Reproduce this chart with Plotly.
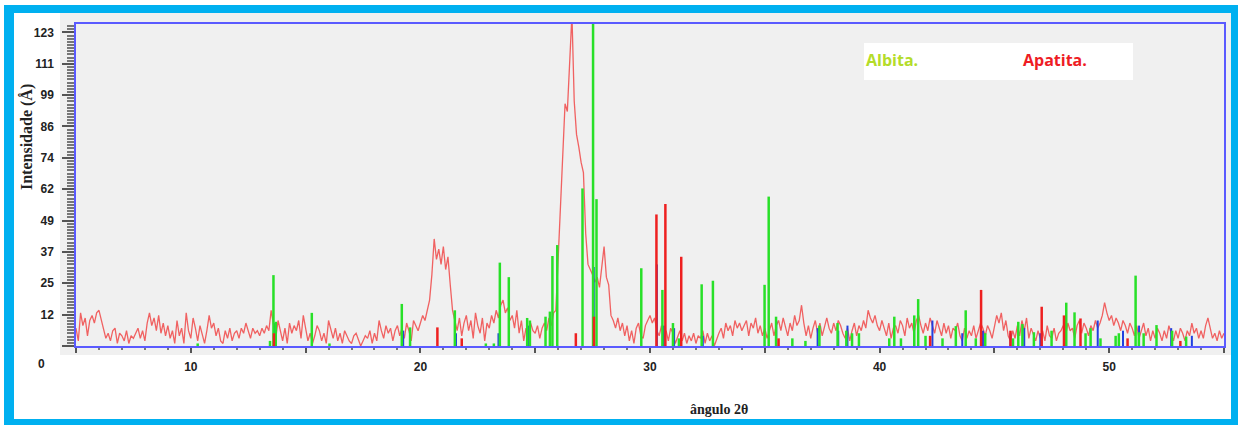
import plotly.graph_objects as go

# ---------------- data ----------------
two_theta_start = 5.0
two_theta_step = 0.1
intensity = [
    7, 2, 13, 8, 11, 4, 10, 12, 9, 13,      # 5
    14, 10, 7, 3, 5, 2, 6, 7, 1, 5,         # 6
    4, 2, 6, 1, 4, 3, 5, 7, 3, 6,           # 7
    2, 9, 13, 8, 11, 6, 12, 5, 9, 4,        # 8
    8, 3, 6, 1, 10, 4, 7, 1, 13, 6,         # 9
    3, 11, 7, 2, 8, 5, 1, 6, 12, 7,         # 10
    9, 4, 7, 2, 1, 6, 3, 7, 2, 5,           # 11
    6, 3, 7, 5, 9, 6, 3, 7, 5, 6,           # 12
    4, 7, 5, 8, 6, 14, 9, 3, 10, 6,         # 13
    2, 7, 1, 9, 5, 8, 6, 10, 3, 12,         # 14
    7, 2, 5, 1, 4, 8, 6, 2, 5, 1,           # 15
    10, 6, 3, 7, 2, 5, 1, 6, 4, 2,          # 16
    1, 4, 5, 2, 0, 2, 4, 3, 6, 1,           # 17
    5, 2, 10, 6, 3, 8, 5, 7, 2, 6,          # 18
    8, 4, 7, 3, 9, 6, 2, 10, 8, 6,          # 19
    9, 12, 10, 14, 18, 28, 42, 34, 38, 32,  # 20
    39, 30, 35, 24, 14, 10, 6, 11, 4, 9,    # 21
    12, 6, 10, 3, 13, 8, 5, 11, 2, 9,       # 22
    7, 12, 9, 14, 11, 16, 18, 13, 15, 10,   # 23
    12, 7, 14, 5, 10, 2, 7, 4, 9, 6,        # 24
    5, 8, 3, 7, 9, 6, 11, 8, 13, 14,        # 25
    35, 55, 78, 95, 92, 110, 130, 96, 83, 78,  # 26
    72, 68, 44, 32, 30, 28, 25, 27, 23, 31, # 27
    39, 27, 24, 12, 10, 7, 11, 6, 9, 4,     # 28
    8, 2, 6, 1, 7, 9, 4, 3, 8, 10,          # 29
    12, 9, 11, 6, 4, 8, 3, 6, 2, 7,         # 30
    5, 1, 4, 6, 2, 5, 1, 4, 2, 5,           # 31
    1, 4, 3, 6, 1, 5, 2, 4, 0, 3,           # 32
    5, 7, 3, 9, 6, 8, 4, 10, 7, 9,          # 33
    6, 8, 10, 4, 9, 7, 11, 5, 8, 4,         # 34
    7, 3, 6, 9, 4, 8, 10, 6, 11, 7,         # 35
    4, 9, 6, 12, 8, 10, 16, 9, 4, 8,        # 36
    3, 7, 10, 5, 9, 4, 8, 11, 7, 5,         # 37
    9, 6, 10, 8, 5, 3, 7, 2, 6, 9,          # 38
    4, 8, 6, 10, 7, 14, 11, 9, 12, 8,       # 39
    6, 10, 7, 4, 9, 3, 7, 8, 5, 10,         # 40
    8, 4, 11, 7, 9, 5, 10, 12, 8, 5,        # 41
    9, 6, 11, 8, 5, 10, 7, 4, 9, 5,         # 42
    8, 3, 7, 6, 9, 4, 2, 7, 3, 6,           # 43
    4, 8, 3, 6, 9, 7, 4, 8, 6, 3,           # 44
    7, 12, 9, 13, 6, 10, 4, 2, 6, 3,        # 45
    8, 4, 10, 6, 11, 3, 7, 4, 2, 6,         # 46
    3, 6, 2, 8, 4, 3, 7, 2, 5, 6,           # 47
    8, 4, 9, 6, 7, 3, 8, 10, 5, 9,          # 48
    7, 4, 8, 6, 10, 7, 9, 12, 17, 13,       # 49
    10, 12, 8, 11, 9, 6, 10, 8, 5, 9,       # 50
    7, 4, 8, 3, 6, 9, 4, 7, 2, 6,           # 51
    3, 7, 5, 2, 6, 3, 8, 5, 2, 6,           # 52
    3, 7, 5, 2, 6, 4, 9, 5, 7, 3,           # 53
    6, 3, 8, 11, 7, 3, 5, 2, 6, 3,          # 54
    5,                                      # 55
]
two_theta = [round(two_theta_start + i * two_theta_step, 2) for i in range(len(intensity))]

albita_pos = [10.3, 13.45, 13.6, 13.7, 15.27, 16.04, 19.19, 19.55, 21.5, 22.85, 23.2,
              23.46, 23.85, 24.65, 24.77, 25.45, 25.64, 25.75, 25.96, 27.06, 27.52,
              27.67, 29.62, 30.54, 31.0, 31.26, 32.25, 32.74, 34.99, 35.17, 35.49,
              36.2, 36.77, 37.38, 38.17, 38.55, 38.8, 39.1, 40.42, 40.64, 40.93,
              41.51, 41.68, 42.0, 42.74, 43.32, 43.75, 44.19, 44.6, 45.81, 46.04,
              46.22, 46.72, 47.49, 48.13, 48.49, 48.97, 49.19, 49.62, 50.28, 50.42,
              51.15, 51.29, 51.5, 52.06, 52.74, 53.35]
albita_int = [1, 2, 27.8, 9.5, 13, 1, 16.5, 7.3, 14, 1, 1,
              32.7, 27, 11, 10, 11.5, 13.5, 35.3, 39.6, 61.8, 135,
              57.6, 30.5, 22, 9, 3, 24.2, 25.6, 24, 58.6, 11.5,
              3, 2, 8, 9, 6, 5, 5, 3, 11.5, 3,
              12, 18.4, 4, 3, 7.8, 14, 3, 5, 3, 9.5,
              8.6, 5.4, 6, 17, 13.2, 5, 7, 3, 4, 5,
              27.6, 5.4, 5, 8.2, 6, 3.7]

apatita_pos = [13.62, 20.74, 21.8, 26.77, 27.56, 30.28, 30.67, 31.36, 35.6, 42.2,
               44.42, 45.7, 47.06, 48.03, 48.75, 50.8, 53.1]
apatita_int = [5, 7.3, 3, 5, 11.5, 51.6, 55.7, 35, 3, 4,
               22, 6, 15.4, 12, 10.8, 3, 2]

blue_pos = [13.65, 19.25, 21.55, 23.4, 24.7, 25.95, 27.55, 30.3, 30.6, 31.05, 32.3,
            35.5, 37.3, 38.2, 38.6, 41.5, 42.3, 43.6, 44.5, 45.7, 46.3, 47.0,
            49.5, 50.6, 51.3, 52.7, 53.6]
blue_int = [9, 6, 5, 5, 8, 17, 31, 32, 8, 7, 4,
            10, 7, 6, 8, 10, 10, 5, 6, 5, 7, 5,
            10, 6, 8, 7, 4]


def sticks(pos, val):
    xs, ys = [], []
    for p, v in zip(pos, val):
        xs += [p, p, None]
        ys += [0, v, None]
    return xs, ys


fig = go.Figure()
fig.add_trace(go.Scatter(x=two_theta, y=intensity, mode="lines",
                         line=dict(color="rgba(240,50,50,0.75)", width=1.3), hoverinfo="skip"))
bx, by = sticks(blue_pos, blue_int)
fig.add_trace(go.Scatter(x=bx, y=by, mode="lines", line=dict(color="#2040e0", width=2)))
gx, gy = sticks(albita_pos, albita_int)
fig.add_trace(go.Scatter(x=gx, y=gy, mode="lines", line=dict(color="#28e028", width=2.5)))
rx, ry = sticks(apatita_pos, apatita_int)
fig.add_trace(go.Scatter(x=rx, y=ry, mode="lines", line=dict(color="#ee2020", width=2.5)))

# ---------------- layout ----------------
W, H = 1238, 425
L, R, T, B = 76, 1224, 24, 346


def px(xp):
    return (xp - L) / (R - L)


def py(yp):
    return (B - yp) / (B - T)


x_ticks = [5, 10, 15, 20, 25, 30, 35, 40, 45, 50, 55]
x_labels = ["", "10", "", "20", "", "30", "", "40", "", "50", ""]
y_ticks = [0, 12.3, 24.6, 36.9, 49.2, 61.5, 73.8, 86.1, 98.4, 110.7, 123]
y_labels = ["", "12", "25", "37", "49", "62", "74", "86", "99", "111", "123"]

tfont = dict(family="Liberation Sans, Arial", size=12, color="#222222", weight="bold")

fig.update_layout(
    width=W, height=H,
    margin=dict(l=L, r=W - R, t=T, b=H - B),
    paper_bgcolor="white", plot_bgcolor="#f0f0f0",
    showlegend=False,
    xaxis=dict(range=[5, 55], tickmode="array", tickvals=x_ticks, ticktext=x_labels,
               ticks="outside", ticklen=5, tickwidth=1.5, tickcolor="#555555",
               minor=dict(dtick=1, tick0=0, ticks="outside", ticklen=2, tickcolor="#777777"),
               showline=True, linecolor="#5a5aff", linewidth=1.5, mirror=True,
               showgrid=False, zeroline=False, tickfont=tfont, ticklabelstandoff=4),
    yaxis=dict(range=[0, 126.3], tickmode="array", tickvals=y_ticks, ticktext=y_labels,
               ticks="outside", ticklen=12, tickwidth=1.5, tickcolor="#555555",
               minor=dict(dtick=1.23, tick0=0, ticks="outside", ticklen=7, tickcolor="#777777"),
               showline=True, linecolor="#5a5aff", linewidth=1.5, mirror=True,
               showgrid=False, zeroline=False, tickfont=tfont, ticklabelstandoff=6),
)

shapes = []
# light gray panel around plot
shapes.append(dict(type="rect", xref="paper", yref="paper", layer="below",
                   x0=px(60), x1=px(1232), y0=py(355), y1=py(13),
                   fillcolor="#f0f0f0", line=dict(width=0)))
# cyan frame
cyan = "#00b0f0"
for (x0, y0, x1, y1) in [(4, 5, 1238, 13), (4, 419, 1238, 425), (4, 5, 14, 425), (1231, 5, 1238, 425)]:
    shapes.append(dict(type="rect", xref="paper", yref="paper", layer="above",
                       x0=px(x0), x1=px(x1), y0=py(y1), y1=py(y0),
                       fillcolor=cyan, line=dict(width=0)))
# legend box
shapes.append(dict(type="rect", xref="paper", yref="paper", layer="above",
                   x0=px(864), x1=px(1133), y0=py(80), y1=py(43),
                   fillcolor="white", line=dict(width=0)))
fig.update_layout(shapes=shapes)

ann = [
    dict(text="0", x=px(41), y=py(364), xref="paper", yref="paper", showarrow=False,
         font=tfont, xanchor="center", yanchor="middle"),
    dict(text="Intensidade (Å)", x=px(27), y=py(137), xref="paper", yref="paper",
         showarrow=False, textangle=-90, xanchor="center", yanchor="middle",
         font=dict(family="Liberation Serif, Times New Roman", size=16, color="#222222", weight="bold")),
    dict(text="ângulo 2θ", x=px(719), y=py(409), xref="paper", yref="paper",
         showarrow=False, xanchor="center", yanchor="middle",
         font=dict(family="Liberation Serif, Times New Roman", size=14, color="#222222", weight="bold")),
    dict(text="Albita.", x=px(864), y=py(60), xref="paper", yref="paper",
         showarrow=False, xanchor="left", yanchor="middle",
         font=dict(family="Open Sans", size=16, color="#b4dc2a", weight="bold")),
    dict(text="Apatita.", x=px(1021), y=py(60), xref="paper", yref="paper",
         showarrow=False, xanchor="left", yanchor="middle",
         font=dict(family="Open Sans", size=16, color="#ee1c24", weight="bold")),
]
fig.update_layout(annotations=ann)

fig.write_html("out.html", config={"displayModeBar": False},
               post_script="document.body.style.margin='0';document.body.style.overflow='hidden';")
